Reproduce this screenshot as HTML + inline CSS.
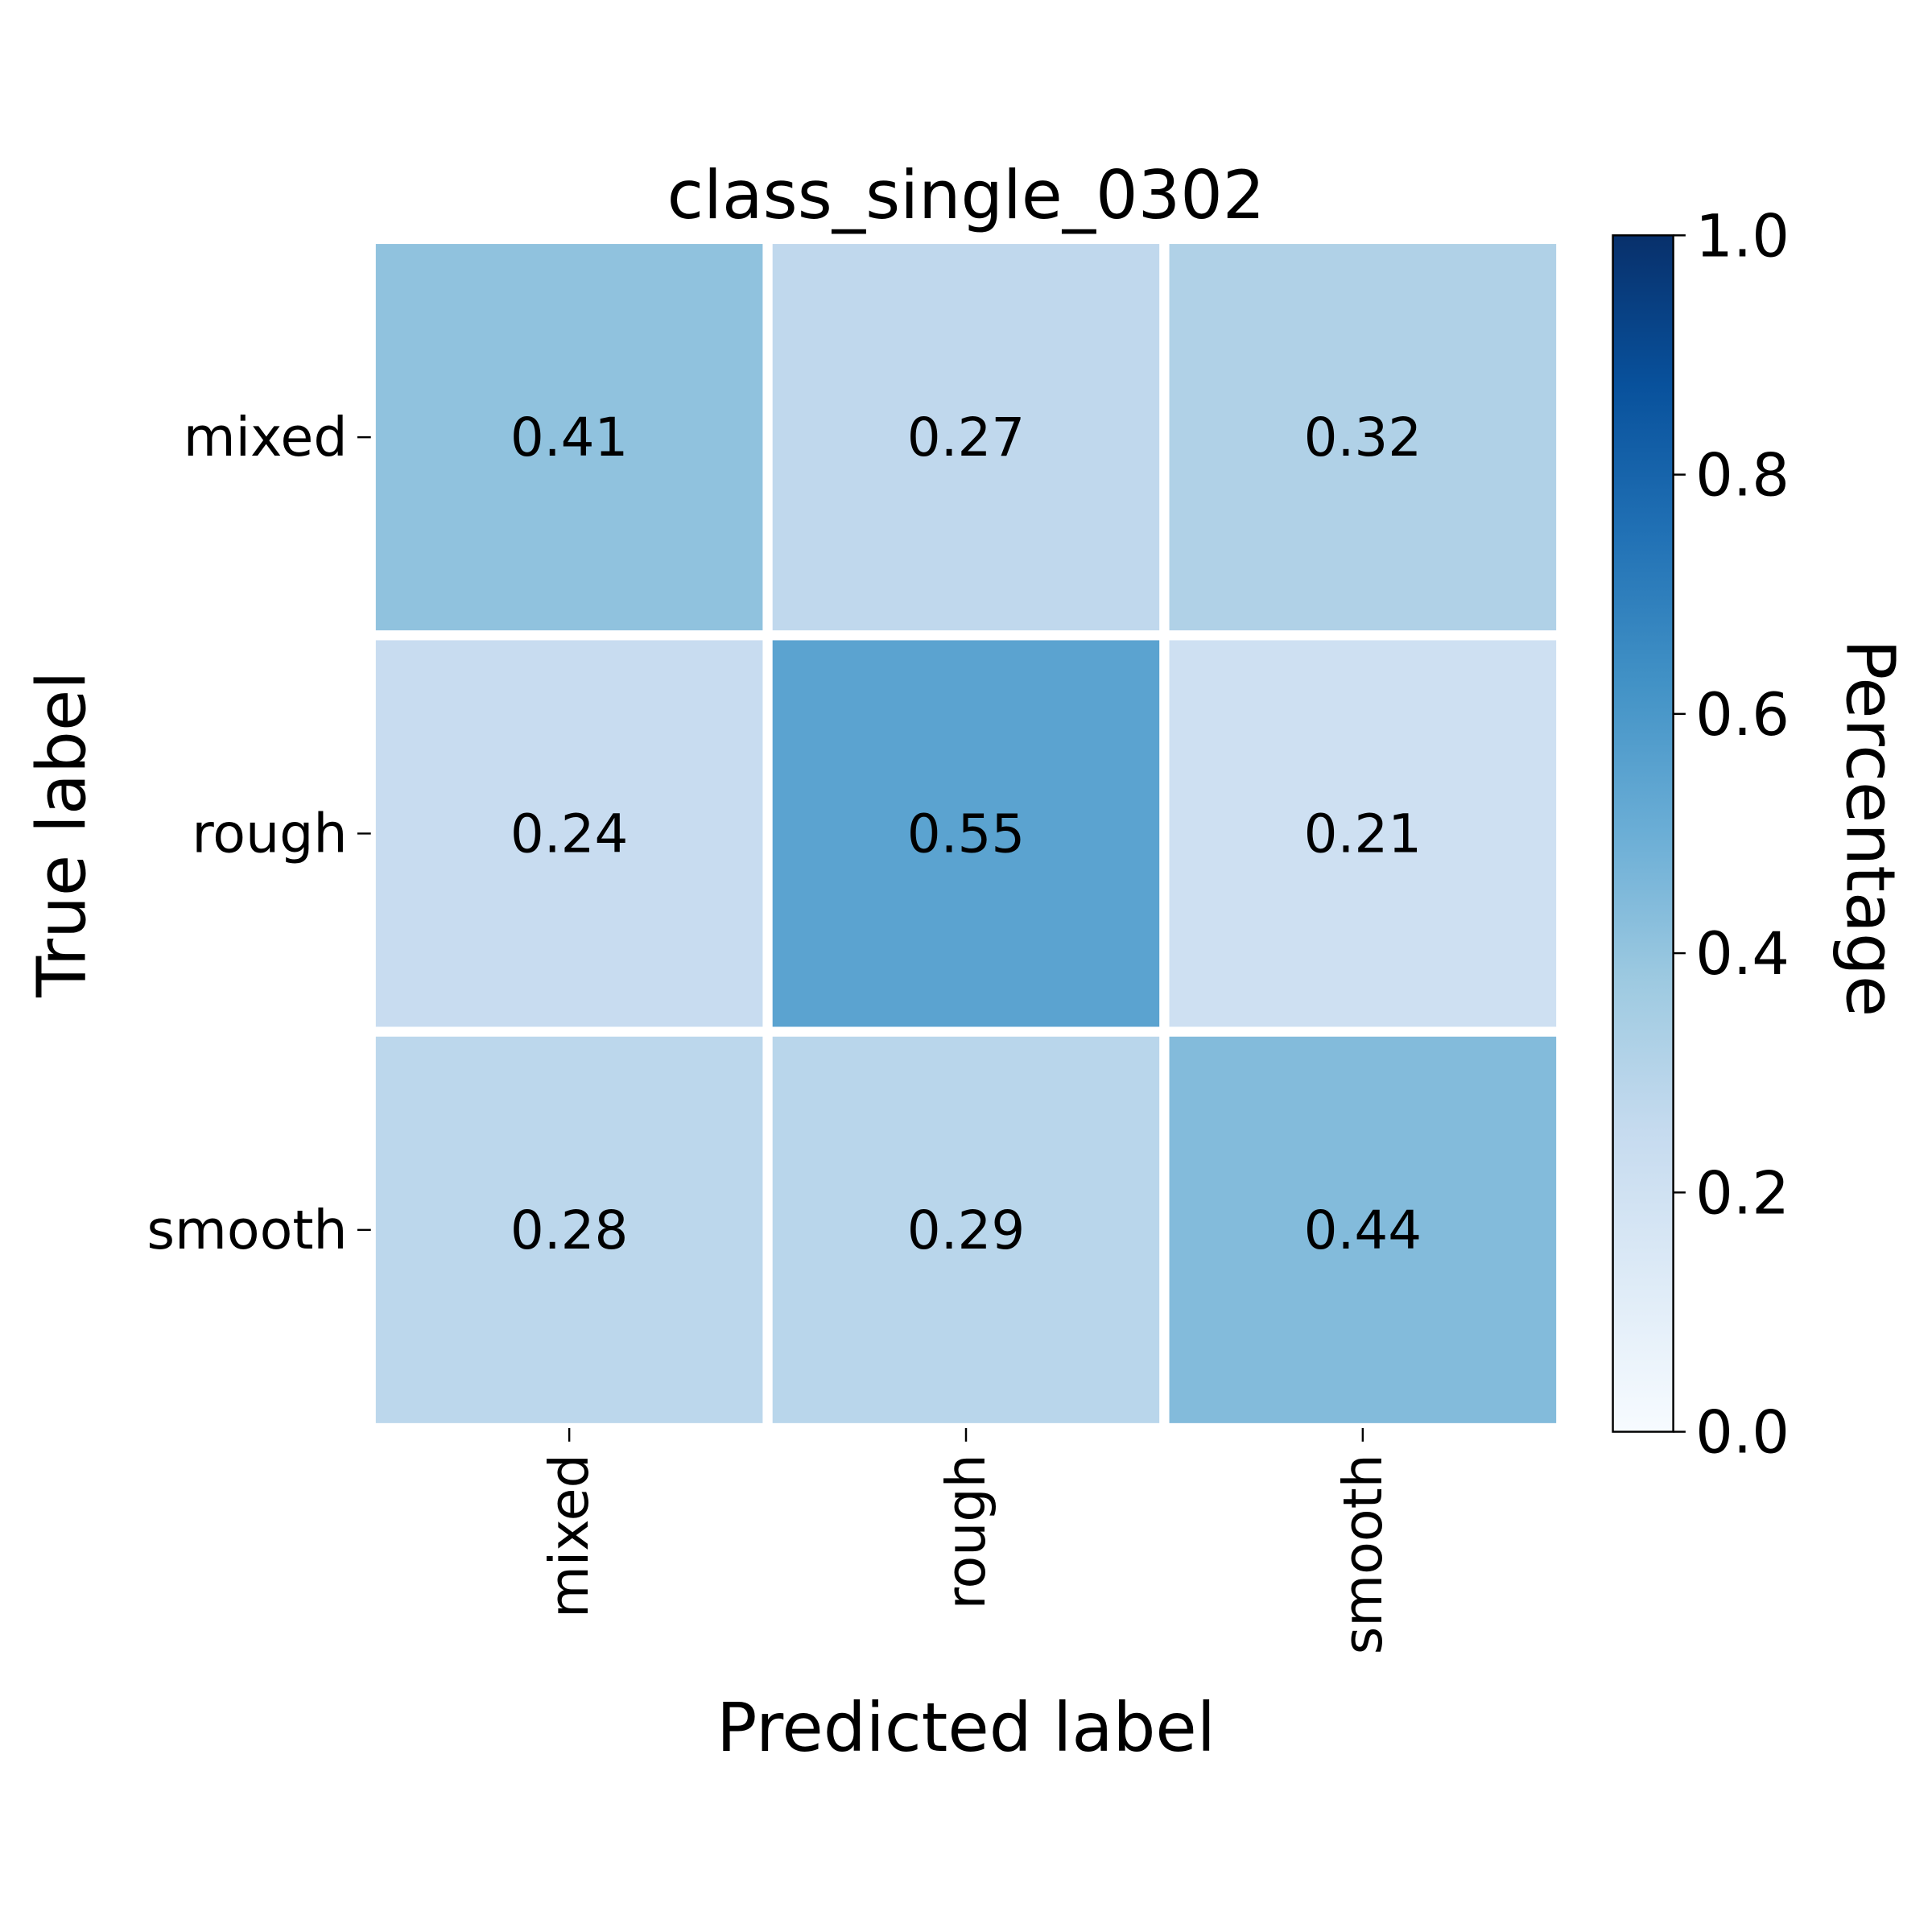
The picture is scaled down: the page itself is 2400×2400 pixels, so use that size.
<!DOCTYPE html>
<html><head><meta charset="utf-8"><style>
html,body{margin:0;padding:0;background:#fff}
svg{display:block;font-family:"DejaVu Sans","Liberation Sans",sans-serif}
</style></head><body>
<svg id="chart" width="2400" height="2400" viewBox="0 0 1568 1568" xmlns="http://www.w3.org/2000/svg">
<defs><linearGradient id="cbg" x1="0" y1="1" x2="0" y2="0">
<stop offset="0" stop-color="#f7fbff"/><stop offset="0.125" stop-color="#deebf7"/><stop offset="0.25" stop-color="#c6dbef"/><stop offset="0.375" stop-color="#9ecae1"/><stop offset="0.5" stop-color="#6baed6"/><stop offset="0.625" stop-color="#4292c6"/><stop offset="0.75" stop-color="#2171b5"/><stop offset="0.875" stop-color="#08519c"/><stop offset="1" stop-color="#08306b"/>
</linearGradient></defs>
<g id="cells"></g>
<text x="784" y="177" font-size="54" text-anchor="middle">class_single_0302</text>
<text x="784" y="1421" font-size="54.5" text-anchor="middle">Predicted label</text>
<text transform="translate(69,677) rotate(-90)" font-size="54.5" text-anchor="middle">True label</text>
<rect x="1309" y="191" width="49" height="971" fill="url(#cbg)" stroke="#000" stroke-width="1.6"/>
<g id="cbticks"></g>
<text transform="translate(1499,672) rotate(90)" font-size="54.5" text-anchor="middle">Percentage</text>
</svg>
<script>
const categories = ["mixed","rough","smooth"];
const row0 = [0.41,0.27,0.32];
const row1 = [0.24,0.55,0.21];
const row2 = [0.28,0.29,0.44];
const cbTicks = [0.0,0.2,0.4,0.6,0.8,1.0];
const rows=[row0,row1,row2];
const NS="http://www.w3.org/2000/svg";
const L=301,T=194,R=1267,B=1159;
const cw=(R-L)/categories.length, ch=(B-T)/categories.length;
const stops=["#f7fbff","#deebf7","#c6dbef","#9ecae1","#6baed6","#4292c6","#2171b5","#08519c","#08306b"].map(h=>[1,3,5].map(i=>parseInt(h.substr(i,2),16)));
function blues(v){v=Math.max(0,Math.min(1,v));const p=v*8,i=Math.min(7,Math.floor(p)),f=p-i;const c=stops[i].map((a,k)=>Math.round(a+(stops[i+1][k]-a)*f));return `rgb(${c})`;}
function xs(j){return L+j*cw;} function ys(i){return T+i*ch;}
function cbY(v){return 1162-v*971;}
const svg=document.getElementById('chart'), g=document.getElementById('cells'), cg=document.getElementById('cbticks');
function mk(tag,a,p){const e=document.createElementNS(NS,tag);for(const k in a)e.setAttribute(k,a[k]);(p||svg).appendChild(e);return e;}
rows.forEach((r,i)=>r.forEach((v,j)=>{
 const rc=mk('rect',{x:xs(j),y:ys(i),width:cw,height:ch,fill:blues(v),stroke:'#fff','stroke-width':8},g);
 
 
 const t=mk('text',{x:xs(j)+cw/2,y:ys(i)+ch/2+15,'font-size':43,'text-anchor':'middle',fill:v>0.6?'#fff':'#000'},g);
 t.textContent=v.toFixed(2);
 
 
}));
categories.forEach((c,i)=>{
 const y=ys(i)+ch/2;
 mk('line',{x1:290,x2:L,y1:y,y2:y,stroke:'#000','stroke-width':1.6});
 const t=mk('text',{x:282,y:y+15,'font-size':43.5,'text-anchor':'end'});t.textContent=c;
 
 
 const x=xs(i)+cw/2;
 mk('line',{x1:x,x2:x,y1:B,y2:B+11,stroke:'#000','stroke-width':1.6});
 const u=mk('text',{transform:`translate(${x+15},1180) rotate(-90)`,'font-size':43.5,'text-anchor':'end'});u.textContent=c;
 
 
});
cbTicks.forEach(v=>{
 const y=cbY(v);
 mk('line',{x1:1358,x2:1368,y1:y,y2:y,stroke:'#000','stroke-width':1.6},cg);
 const t=mk('text',{x:1376,y:y+17,'font-size':48},cg);t.textContent=v.toFixed(1);
 
 
});
</script>
</body></html>
